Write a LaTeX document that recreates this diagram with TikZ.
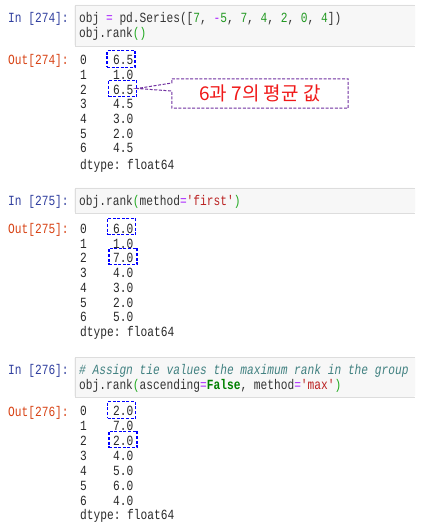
\documentclass[tikz,border=0pt]{standalone}
\usepackage{fontspec}
\setmonofont{Liberation Mono}[FakeStretch=0.8]
\newfontfamily\krfont{Noto Sans CJK KR}
\definecolor{cellbg}{HTML}{F7F7F7}
\definecolor{cellline}{HTML}{DDDDDD}
\definecolor{inblue}{HTML}{303F9F}
\definecolor{outred}{HTML}{D84315}
\definecolor{codetxt}{HTML}{333333}
\definecolor{codeop}{HTML}{AA22FF}
\definecolor{codenum}{HTML}{229922}
\definecolor{codebr}{HTML}{22AA22}
\definecolor{codestr}{HTML}{BA2121}
\definecolor{codekw}{HTML}{008000}
\definecolor{codecom}{HTML}{408080}
\definecolor{outtxt}{HTML}{2A2A2A}
\definecolor{hlblue}{HTML}{0000FF}
\definecolor{notepurple}{HTML}{7030A0}
\definecolor{notered}{HTML}{F01818}
\begin{document}
\begin{tikzpicture}[x=1pt,y=-1pt,
  mono/.style={font=\ttfamily\fontsize{14}{16}\selectfont, inner sep=0pt, anchor=west, text height=9.2pt, text depth=0pt},
  code/.style={mono, text=codetxt},
  outtext/.style={mono, text=outtxt},
  inprompt/.style={mono, text=inblue},
  outprompt/.style={mono, text=outred},
  hlbox/.style={draw=hlblue, dash pattern=on 3pt off 1.6pt, line width=1.2pt, inner sep=0pt, minimum width=#1, minimum height=16.5pt},
  hlbox/.default=28pt,
  cellfill/.style={fill=cellbg, rounded corners=1.5pt},
  cellborder/.style={draw=cellline, line width=0.9pt},
  notebox/.style={draw=notepurple, dash pattern=on 3pt off 1.6pt, line width=1pt}
]
\useasboundingbox (0,0) rectangle (422,526);
\fill[white] (0,0) rectangle (422,526);

% ---------- cell 274 ----------
\fill[cellfill] (74,5) rectangle (415,46);
\draw[cellborder] (415,5) -- (75,5) -- (75,46) -- (415,46);
\node (in1) [inprompt] at (8,18.3) {In [274]:};
\node (c1a) [code] at (79,18.3) {obj \textcolor{codeop}{=} pd.Series([\textcolor{codenum}{7}, \textcolor{codeop}{-}\textcolor{codenum}{5}, \textcolor{codenum}{7}, \textcolor{codenum}{4}, \textcolor{codenum}{2}, \textcolor{codenum}{0}, \textcolor{codenum}{4}])};
\node (c1b) [code] at (79,33.3) {obj.rank\textcolor{codebr}{()}};
\node (out1) [outprompt] at (8,60.2) {Out[274]:};
\foreach \i/\v in {0/6.5,1/1.0,2/6.5,3/4.5,4/3.0,5/2.0,6/4.5}{
  \pgfmathsetmacro\yy{60.2+\i*14.68}
  \node (o1i\i) [outtext] at (80,\yy) {\i};
  \node (o1v\i) [outtext] at (113,\yy) {\v};
}
\node (o1d) [outtext] at (80,165) {dtype: float64};
\node (b11) [hlbox] at (121,59) {};
\node (b12) [hlbox] at (122.5,88.5) {};

\node (note) [minimum width=176pt, minimum height=29pt, inner sep=0pt, text=notered,
  font=\krfont\fontsize{19}{22}\selectfont] at (260,93.5) {6과 7의 평균 값};
\draw[notebox] (note.north west) -- (note.north east) -- (note.south east) -- (note.south west)
  -- ([yshift=2.5pt]note.west) -- (b12.east) -- ([yshift=10.5pt]note.west) -- cycle;

% ---------- cell 275 ----------
\fill[cellfill] (74,188) rectangle (415,213);
\draw[cellborder] (415,188) -- (75,188) -- (75,213) -- (415,213);
\node (in2) [inprompt] at (8,201) {In [275]:};
\node (c2a) [code] at (79,201) {obj.rank\textcolor{codebr}{(}method\textcolor{codeop}{=}\textcolor{codestr}{'first'}\textcolor{codebr}{)}};
\node (out2) [outprompt] at (8,228.5) {Out[275]:};
\foreach \i/\v in {0/6.0,1/1.0,2/7.0,3/4.0,4/3.0,5/2.0,6/5.0}{
  \pgfmathsetmacro\yy{228.8+\i*14.73}
  \node (o2i\i) [outtext] at (80,\yy) {\i};
  \node (o2v\i) [outtext] at (113,\yy) {\v};
}
\node (o2d) [outtext] at (80,332.3) {dtype: float64};
\node (b21) [hlbox] at (121.5,226.5) {};
\node (b22) [hlbox] at (123,256.5) {};

% ---------- cell 276 ----------
\fill[cellfill] (74,357) rectangle (415,397);
\draw[cellborder] (415,357) -- (75,357) -- (75,397) -- (415,397);
\node (in3) [inprompt] at (8,370) {In [276]:};
\node (c3a) [code] at (79,370) {\textcolor{codecom}{\itshape \# Assign tie values the maximum rank in the group}};
\node (c3b) [code] at (79,384.5) {obj.rank\textcolor{codebr}{(}ascending\textcolor{codeop}{=}\textcolor{codekw}{\bfseries False}, method\textcolor{codeop}{=}\textcolor{codestr}{'max'}\textcolor{codebr}{)}};
\node (out3) [outprompt] at (8,411.5) {Out[276]:};
\foreach \i/\v in {0/2.0,1/7.0,2/2.0,3/4.0,4/5.0,5/6.0,6/4.0}{
  \pgfmathsetmacro\yy{411.3+\i*14.87}
  \node (o3i\i) [outtext] at (80,\yy) {\i};
  \node (o3v\i) [outtext] at (113,\yy) {\v};
}
\node (o3d) [outtext] at (80,515.3) {dtype: float64};
\node (b31) [hlbox] at (121.5,410) {};
\node (b32) [hlbox] at (123,439.5) {};
\end{tikzpicture}
\end{document}
